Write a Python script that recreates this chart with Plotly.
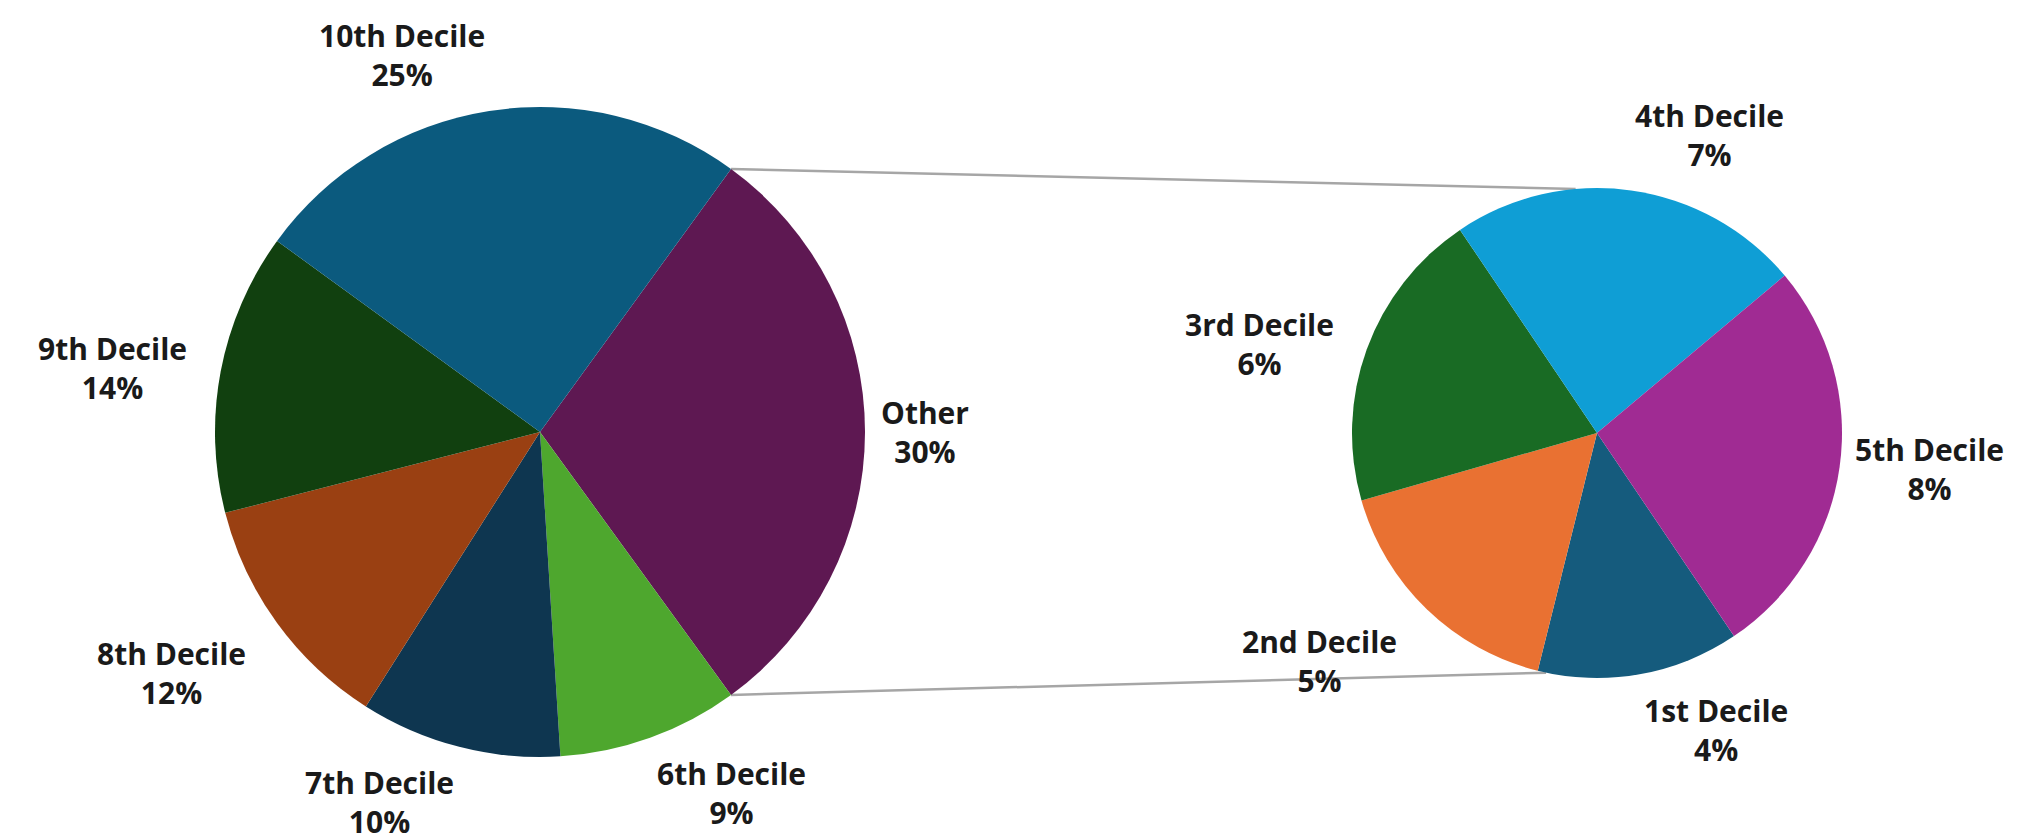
import math
import plotly.graph_objects as go

# ---- data ----
main_labels = ["Other", "6th Decile", "7th Decile", "8th Decile", "9th Decile", "10th Decile"]
main_values = [30, 9, 10, 12, 14, 25]
sub_labels = ["1st Decile", "2nd Decile", "3rd Decile", "4th Decile", "5th Decile"]
sub_values = [4, 5, 6, 7, 8]

# ---- style ----
main_colors = ["#5E1852", "#4EA72E", "#0E3650", "#9A4012", "#11400F", "#0B5A7E"]
sub_colors = ["#155B7D", "#E97132", "#196B24", "#0F9ED5", "#A02B93"]

W, H = 2034, 840
L_C, L_R = (532, 424), 325
R_C, R_R = (1589, 425), 245
GAP = 14
SIDE_SHIFT = 18
FONT_SIZE = 30

main_total = sum(main_values)
other_span = 360 * main_values[0] / main_total
main_rot = 90 - other_span / 2
sub_rot = 146


def domain(c, r):
    return dict(x=[(c[0] - r) / W, (c[0] + r) / W], y=[1 - (c[1] + r) / H, 1 - (c[1] - r) / H])


def px_to_paper(x, y):
    return x / W, 1 - y / H


def point(c, r, ang):
    a = math.radians(ang)
    return c[0] + r * math.sin(a), c[1] - r * math.cos(a)


fig = go.Figure()
fig.add_trace(go.Pie(labels=main_labels, values=main_values, sort=False, direction="clockwise",
                     rotation=main_rot, marker=dict(colors=main_colors, line=dict(width=0)),
                     textinfo="none", hoverinfo="label+value", domain=domain(L_C, L_R),
                     showlegend=False))
fig.add_trace(go.Pie(labels=sub_labels, values=sub_values, sort=False, direction="clockwise",
                     rotation=sub_rot, marker=dict(colors=sub_colors, line=dict(width=0)),
                     textinfo="none", hoverinfo="label+value", domain=domain(R_C, R_R),
                     showlegend=False))

annotations = []


def add_labels(labels, values, c, r, rot):
    total = sum(values)
    cum = 0
    for lab, v in zip(labels, values):
        mid = rot + 360 * (cum + v / 2) / total
        cum += v
        a = math.radians(mid)
        sx, sy = math.sin(a), -math.cos(a)
        px, py = point(c, r + GAP, mid)
        xa = "left" if sx > 0.1 else ("right" if sx < -0.1 else "center")
        ya = "top" if sy > 0.5 else ("bottom" if sy < -0.5 else "middle")
        xshift = -SIDE_SHIFT if sx < -0.5 else 0
        x, y = px_to_paper(px, py)
        annotations.append(dict(x=x, y=y, xref="paper", yref="paper", xanchor=xa, yanchor=ya,
                                xshift=xshift,
                                text=f"{lab}<br>{v}%", showarrow=False, align="center",
                                font=dict(family="Open Sans", size=FONT_SIZE, color="#1a1a1a",
                                          weight=700)))


add_labels(main_labels, main_values, L_C, L_R, main_rot)
add_labels(sub_labels, sub_values, R_C, R_R, sub_rot)

# connector lines from the "Other" slice edges to the secondary pie
shapes = []
p_top = point(L_C, L_R, main_rot)
p_bot = point(L_C, L_R, main_rot + other_span)
q_top = point(R_C, R_R, -5)
q_bot = point(R_C, R_R, 192)
for p, q in [(p_top, q_top), (p_bot, q_bot)]:
    x0, y0 = px_to_paper(*p)
    x1, y1 = px_to_paper(*q)
    shapes.append(dict(type="line", xref="paper", yref="paper", x0=x0, y0=y0, x1=x1, y1=y1,
                       line=dict(color="#A6A6A6", width=2.5), layer="below"))

fig.update_layout(width=W, height=H, margin=dict(l=0, r=0, t=0, b=0),
                  paper_bgcolor="white", plot_bgcolor="white",
                  annotations=annotations, shapes=shapes, showlegend=False)

fig.write_html("out.html")
